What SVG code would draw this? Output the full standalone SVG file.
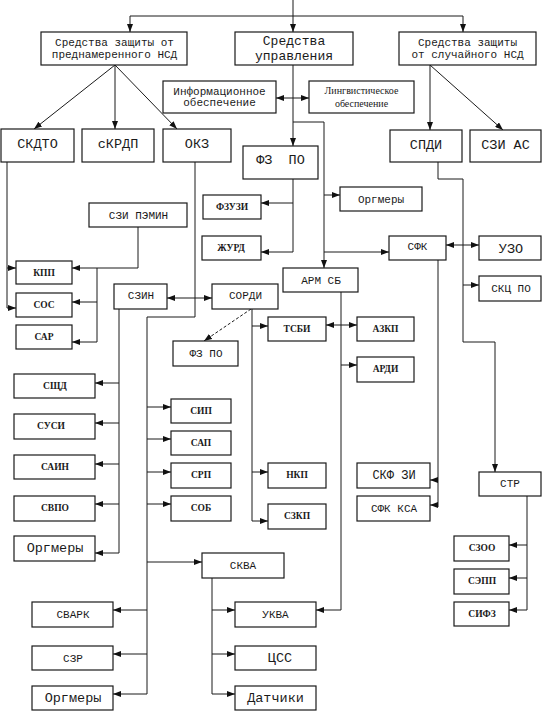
<svg xmlns="http://www.w3.org/2000/svg" width="543" height="711" viewBox="0 0 543 711">
<defs>
<marker id="a" markerWidth="8" markerHeight="6" refX="8" refY="3" orient="auto-start-reverse" markerUnits="userSpaceOnUse"><path d="M0,0 L8,3 L0,6 z" fill="#111"/></marker>
</defs>
<style>
rect{fill:#fff;stroke:#1a1a1a;stroke-width:1.2}
text{fill:#1a1a1a;text-anchor:middle;white-space:pre}
.m{font-family:"Liberation Mono","DejaVu Sans Mono",monospace;font-size:11px}
.L{font-family:"Liberation Mono","DejaVu Sans Mono",monospace;font-size:13.5px}
.s{font-family:"Liberation Serif","Times New Roman",serif;font-size:9.5px;font-weight:bold}
.t{font-family:"Liberation Serif","Times New Roman",serif;font-size:10px}
#connectors path{fill:none;stroke:#1a1a1a;stroke-width:1}
.e{marker-end:url(#a)}
.d{marker-start:url(#a);marker-end:url(#a)}
</style>
<rect x="0" y="0" width="543" height="711" style="fill:#fff;stroke:none"/>
<g id="connectors">
<path class="e" d="M293,0 V32"/>
<path d="M130,16 H463"/>
<path class="e" d="M130,16 V32"/>
<path class="e" d="M463,16 V32"/>
<path class="e" d="M115,65 L34,129"/>
<path class="e" d="M115,65 V129"/>
<path class="e" d="M115,65 L177,129"/>
<path class="e" d="M430,65 V130"/>
<path class="e" d="M430,65 L503,130"/>
<path class="e" d="M293,65 V146"/>
<path class="d" d="M276,98 H309"/>
<path class="e" d="M293,122 H324 V268"/>
<path class="e" d="M324,195 H340"/>
<path class="e" d="M324,252 H389"/>
<path d="M293,179 V252"/>
<path class="e" d="M293,203 H261"/>
<path class="e" d="M293,252 H261"/>
<path class="e" d="M438,162 V179 H463 V342 H495 V472"/>
<path class="d" d="M446,245 H479"/>
<path class="e" d="M463,285 H479"/>
<path d="M438,260 V507"/>
<path class="e" d="M438,480 H430"/>
<path class="e" d="M438,505 H430"/>
<path class="e" d="M341,292 V610 H316"/>
<path class="d" d="M326,325 H357"/>
<path class="e" d="M341,365 H357"/>
<path d="M252,309 V521"/>
<path class="e" d="M252,326 H268"/>
<path class="e" d="M252,472 H268"/>
<path class="e" d="M252,521 H268"/>
<path class="e" d="M251,309 L204,341" style="stroke-dasharray:3,2"/>
<path class="d" d="M167,298 H212"/>
<path d="M195,162 V317 H147 V694"/>
<path class="e" d="M147,407 H171"/>
<path class="e" d="M147,439 H171"/>
<path class="e" d="M147,472 H171"/>
<path class="e" d="M147,504 H171"/>
<path class="e" d="M147,562 H202"/>
<path class="e" d="M147,610 H113"/>
<path class="e" d="M147,654 H113"/>
<path class="e" d="M147,694 H113"/>
<path d="M119,309 V553"/>
<path class="e" d="M119,383 H95"/>
<path class="e" d="M119,423 H95"/>
<path class="e" d="M119,464 H95"/>
<path class="e" d="M119,504 H95"/>
<path class="e" d="M119,553 H95"/>
<path d="M7,162 V308"/>
<path class="e" d="M7,268 H16"/>
<path class="e" d="M7,308 H16"/>
<path class="e" d="M138,227 V268 H72"/>
<path d="M97,268 V342"/>
<path class="e" d="M97,302 H72"/>
<path class="e" d="M97,342 H72"/>
<path d="M212,578 V694"/>
<path class="e" d="M212,610 H235"/>
<path class="e" d="M212,654 H235"/>
<path class="e" d="M212,694 H235"/>
<path d="M527,496 V610"/>
<path class="e" d="M527,545 H509"/>
<path class="e" d="M527,578 H509"/>
<path class="e" d="M527,610 H509"/>
</g>
<g id="hdr_left"><rect x="41" y="32" width="146" height="33"/><text class="m" x="114.5" y="46">Средства защиты от</text><text class="m" x="114.5" y="58">преднамеренного НСД</text></g>
<g id="hdr_mid"><rect x="235" y="32" width="118" height="33"/><text class="L" x="294" y="45" style="font-size:13px">Средства</text><text class="L" x="294" y="60" style="font-size:13px">управления</text></g>
<g id="hdr_right"><rect x="399" y="32" width="137" height="33"/><text class="m" x="467.5" y="46">Средства защиты</text><text class="m" x="467.5" y="58">от случайного НСД</text></g>
<g id="info"><rect x="163" y="81" width="113" height="32"/><text class="m" x="219.5" y="95">Информационное</text><text class="m" x="219.5" y="106">обеспечение</text></g>
<g id="ling"><rect x="309" y="81" width="105" height="32"/><text class="t" x="361.5" y="94">Лингвистическое</text><text class="t" x="361.5" y="107">обеспечение</text></g>
<g id="skdto"><rect x="1" y="129" width="73" height="33"/><text class="L" x="37.5" y="148">СКДТО</text></g>
<g id="skrdp"><rect x="82" y="129" width="72" height="33"/><text class="L" x="118" y="148">сКРДП</text></g>
<g id="okz"><rect x="163" y="129" width="68" height="33"/><text class="L" x="197" y="148">ОКЗ</text></g>
<g id="spdi"><rect x="390" y="130" width="72" height="32"/><text class="L" x="426" y="149">СПДИ</text></g>
<g id="szias"><rect x="470" y="130" width="71" height="32"/><text class="L" x="505.5" y="149">СЗИ АС</text></g>
<g id="fzpo"><rect x="243" y="146" width="75" height="33"/><text class="L" x="280.5" y="164">ФЗ  ПО</text></g>
<g id="fzuzi"><rect x="203" y="195" width="58" height="24"/><text class="s" x="232" y="210">ФЗУЗИ</text></g>
<g id="zhurd"><rect x="202" y="236" width="59" height="24"/><text class="s" x="231" y="251">ЖУРД</text></g>
<g id="orgm1"><rect x="340" y="187" width="82" height="24"/><text class="m" x="381" y="203">Оргмеры</text></g>
<g id="sfk"><rect x="389" y="236" width="57" height="24"/><text class="m" x="417.5" y="250">СФК</text></g>
<g id="uzo"><rect x="479" y="236" width="62" height="24"/><text class="L" x="511" y="253">УЗО</text></g>
<g id="skcpo"><rect x="479" y="276" width="62" height="25"/><text class="m" x="511" y="292">СКЦ ПО</text></g>
<g id="armsb"><rect x="283" y="268" width="75" height="24"/><text class="m" x="321" y="284">АРМ СБ</text></g>
<g id="szipemin"><rect x="89" y="203" width="98" height="24"/><text class="m" x="138.5" y="219">СЗИ ПЭМИН</text></g>
<g id="kpp"><rect x="16" y="261" width="56" height="23"/><text class="s" x="44" y="276">КПП</text></g>
<g id="sos"><rect x="16" y="293" width="56" height="24"/><text class="s" x="44" y="308">СОС</text></g>
<g id="sar"><rect x="16" y="325" width="56" height="24"/><text class="s" x="44" y="340">САР</text></g>
<g id="szin"><rect x="114" y="284" width="53" height="25"/><text class="m" x="141" y="299">СЗИН</text></g>
<g id="sordi"><rect x="212" y="284" width="66" height="25"/><text class="m" x="245.5" y="299">СОРДИ</text></g>
<g id="tsbi"><rect x="268" y="317" width="58" height="24"/><text class="s" x="297" y="332">ТСБИ</text></g>
<g id="azkp"><rect x="357" y="317" width="57" height="24"/><text class="s" x="385.5" y="332">АЗКП</text></g>
<g id="ardi"><rect x="357" y="357" width="57" height="25"/><text class="s" x="385.5" y="372">АРДИ</text></g>
<g id="fzpo2"><rect x="173" y="341" width="65" height="25"/><text class="m" x="206" y="357">ФЗ ПО</text></g>
<g id="sshd"><rect x="14" y="374" width="81" height="24"/><text class="s" x="55" y="389">СЩД</text></g>
<g id="susi"><rect x="14" y="414" width="81" height="25"/><text class="s" x="51" y="429">СУСИ</text></g>
<g id="sain"><rect x="14" y="455" width="81" height="24"/><text class="s" x="55" y="470">САИН</text></g>
<g id="svpo"><rect x="14" y="496" width="81" height="25"/><text class="s" x="55" y="511">СВПО</text></g>
<g id="orgm2"><rect x="14" y="536" width="81" height="25"/><text class="L" x="55" y="552">Оргмеры</text></g>
<g id="sip"><rect x="171" y="399" width="60" height="24"/><text class="s" x="201" y="414">СИП</text></g>
<g id="sap"><rect x="171" y="431" width="60" height="24"/><text class="s" x="201" y="446">САП</text></g>
<g id="srp"><rect x="171" y="463" width="60" height="25"/><text class="s" x="201" y="478">СРП</text></g>
<g id="sob"><rect x="171" y="496" width="60" height="25"/><text class="s" x="201" y="511">СОБ</text></g>
<g id="nkp"><rect x="268" y="463" width="58" height="25"/><text class="s" x="297" y="478">НКП</text></g>
<g id="szkp"><rect x="268" y="504" width="58" height="25"/><text class="s" x="297" y="519">СЗКП</text></g>
<g id="skfzi"><rect x="357" y="463" width="73" height="25"/><text class="m" x="394" y="479" style="font-size:12px">СКФ ЗИ</text></g>
<g id="sfkksa"><rect x="357" y="496" width="73" height="25"/><text class="m" x="394" y="512">СФК КСА</text></g>
<g id="str"><rect x="479" y="472" width="62" height="24"/><text class="m" x="510" y="487">СТР</text></g>
<g id="szoo"><rect x="454" y="536" width="55" height="25"/><text class="s" x="482" y="551">СЗОО</text></g>
<g id="sepp"><rect x="454" y="569" width="55" height="25"/><text class="s" x="482" y="584">СЭПП</text></g>
<g id="sifz"><rect x="454" y="602" width="55" height="24"/><text class="s" x="482" y="617">СИФЗ</text></g>
<g id="skva"><rect x="202" y="553" width="82" height="25"/><text class="m" x="243" y="569">СКВА</text></g>
<g id="ukva"><rect x="235" y="602" width="81" height="25"/><text class="m" x="275.5" y="618">УКВА</text></g>
<g id="css"><rect x="235" y="646" width="81" height="24"/><text class="L" x="280" y="662">ЦСС</text></g>
<g id="datch"><rect x="235" y="686" width="81" height="24"/><text class="L" x="275.5" y="702">Датчики</text></g>
<g id="svark"><rect x="32" y="602" width="81" height="25"/><text class="m" x="73" y="618">СВАРК</text></g>
<g id="szr"><rect x="32" y="646" width="81" height="24"/><text class="m" x="73" y="662">СЗР</text></g>
<g id="orgm3"><rect x="32" y="686" width="81" height="24"/><text class="L" x="73" y="702">Оргмеры</text></g>
</svg>
